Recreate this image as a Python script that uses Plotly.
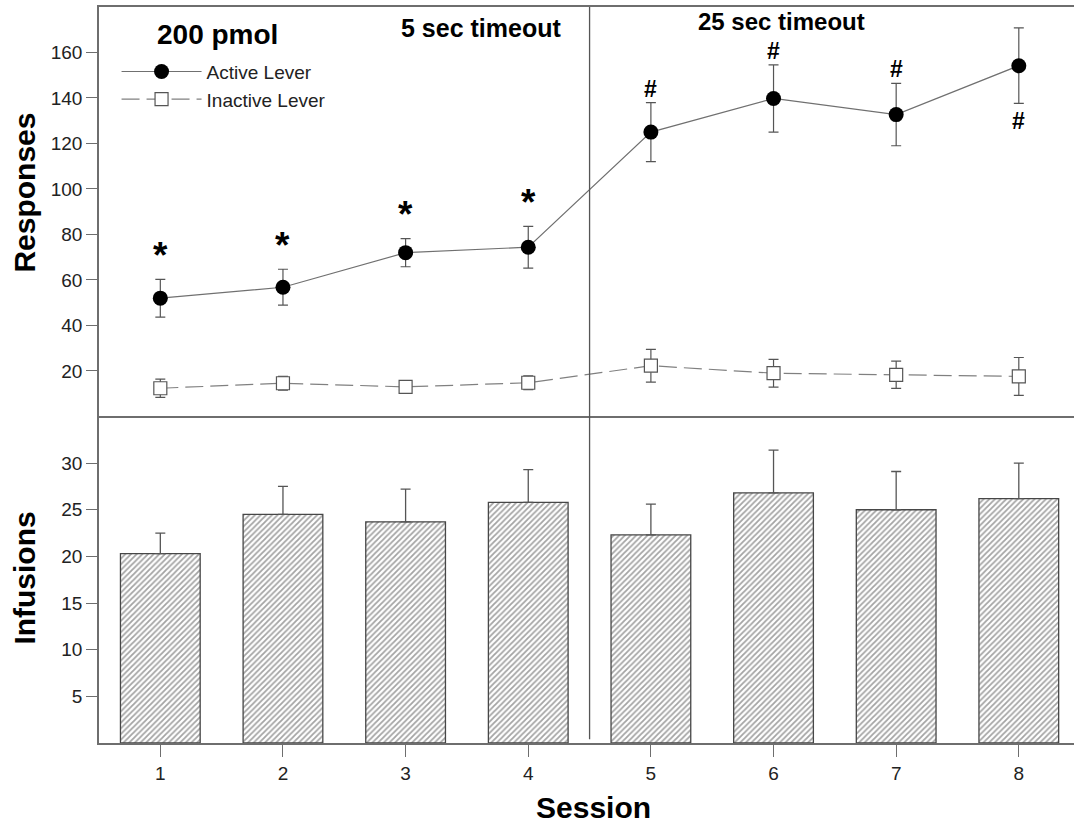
import plotly.graph_objects as go

# ---------------- data ----------------
sessions = [1, 2, 3, 4, 5, 6, 7, 8]
session_labels = ["1", "2", "3", "4", "5", "6", "7", "8"]

active_mean = [52.0, 56.8, 72.0, 74.4, 125.0, 139.8, 132.7, 154.2]
active_se = [8.3, 7.9, 6.2, 9.2, 13.0, 14.8, 13.7, 16.6]

inactive_mean = [12.4, 14.6, 13.0, 14.8, 22.3, 19.0, 18.3, 17.6]
inactive_se = [4.0, 3.0, 1.0, 3.0, 7.2, 6.1, 6.0, 8.3]

infusions_mean = [20.3, 24.5, 23.7, 25.8, 22.3, 26.8, 25.0, 26.2]
infusions_se = [2.2, 3.0, 3.5, 3.5, 3.3, 4.6, 4.1, 3.8]

star_sessions = [1, 2, 3, 4]          # '*' above active mean
hash_above_sessions = [5, 6, 7]       # '#' above active mean
hash_below_sessions = [8]             # '#' below active mean

resp_ticks = [20, 40, 60, 80, 100, 120, 140, 160]
inf_ticks = [5, 10, 15, 20, 25, 30]

# ---------------- style ----------------
FONT = "Arial, Liberation Sans, Helvetica, sans-serif"
AX = "#6e6e6e"
TXT = "#222222"

fig = go.Figure()

fig.add_trace(go.Scatter(
    x=sessions, y=active_mean, name="Active Lever", mode="lines+markers",
    line=dict(color="#707070", width=1.2),
    marker=dict(symbol="circle", size=15, color="black", line=dict(color="black", width=0)),
    error_y=dict(type="data", array=active_se, color="#555555", thickness=1.2, width=5),
    xaxis="x", yaxis="y",
))
fig.add_trace(go.Scatter(
    x=sessions, y=inactive_mean, name="Inactive Lever", mode="lines+markers",
    line=dict(color="#808080", width=1.2, dash="18px,7px"),
    marker=dict(symbol="square", size=13, color="white", line=dict(color="#555555", width=1.2)),
    error_y=dict(type="data", array=inactive_se, color="#555555", thickness=1.2, width=5),
    xaxis="x", yaxis="y",
))
fig.add_trace(go.Bar(
    x=sessions, y=infusions_mean, width=0.65, showlegend=False,
    marker=dict(color="white", line=dict(color="#474747", width=1.3),
                pattern=dict(shape="/", size=4, solidity=0.45, fgcolor="#4a4a4a", bgcolor="white")),
    error_y=dict(type="data", symmetric=False, array=infusions_se, arrayminus=[0] * len(infusions_se),
                 color="#555555", thickness=1.3, width=5),
    xaxis="x2", yaxis="y2",
))

anns = []
for s in star_sessions:
    i = sessions.index(s)
    anns.append(dict(x=s, y=active_mean[i] + active_se[i], xref="x", yref="y", text="<b>*</b>",
                     showarrow=False, yanchor="middle", yshift=24,
                     font=dict(family=FONT, size=37, color="black")))
for s in hash_above_sessions:
    i = sessions.index(s)
    anns.append(dict(x=s, y=active_mean[i] + active_se[i], xref="x", yref="y", text="<b>#</b>",
                     showarrow=False, yanchor="middle", yshift=14,
                     font=dict(family=FONT, size=23, color="black")))
for s in hash_below_sessions:
    i = sessions.index(s)
    anns.append(dict(x=s, y=active_mean[i] - active_se[i], xref="x", yref="y", text="<b>#</b>",
                     showarrow=False, yanchor="middle", yshift=-18,
                     font=dict(family=FONT, size=23, color="black")))

anns += [
    dict(x=0.1219, y=0.963, xref="paper", yref="paper", text="<b>200 pmol</b>", showarrow=False,
         xanchor="center", yanchor="middle", font=dict(family=FONT, size=28, color="black")),
    dict(x=0.3914, y=0.971, xref="paper", yref="paper", text="<b>5 sec timeout</b>", showarrow=False,
         xanchor="center", yanchor="middle", font=dict(family=FONT, size=25, color="black")),
    dict(x=0.6998, y=0.980, xref="paper", yref="paper", text="<b>25 sec timeout</b>", showarrow=False,
         xanchor="center", yanchor="middle", font=dict(family=FONT, size=24, color="black")),
    dict(x=-0.0768, y=0.748, xref="paper", yref="paper", text="<b>Responses</b>", showarrow=False,
         textangle=-90, xanchor="center", yanchor="middle", font=dict(family=FONT, size=30, color="black")),
    dict(x=-0.0768, y=0.2235, xref="paper", yref="paper", text="<b>Infusions</b>", showarrow=False,
         textangle=-90, xanchor="center", yanchor="middle", font=dict(family=FONT, size=30, color="black")),
    dict(x=0.5067, y=-0.087, xref="paper", yref="paper", text="<b>Session</b>", showarrow=False,
         xanchor="center", yanchor="middle", font=dict(family=FONT, size=30, color="black")),
]

split = 0.4437
xrange_ = [0.5, 8.45]

fig.update_layout(
    width=1075, height=827,
    margin=dict(l=99, r=1, t=7, b=84),
    paper_bgcolor="white", plot_bgcolor="white",
    font=dict(family=FONT, size=19, color=TXT),
    showlegend=True,
    legend=dict(x=0.018, y=0.938, xanchor="left", yanchor="top", bgcolor="rgba(0,0,0,0)",
                font=dict(family=FONT, size=19, color=TXT), itemwidth=80, tracegroupgap=0),
    annotations=anns,
    bargap=0.35,
    xaxis=dict(domain=[0, 1], anchor="y", range=xrange_, showticklabels=False, ticks="",
               showline=True, linecolor=AX, linewidth=1.5, mirror=True, showgrid=False, zeroline=False,
               matches="x2"),
    yaxis=dict(domain=[split, 1], anchor="x", range=[0, 180], tickvals=resp_ticks,
               ticks="outside", ticklen=11, tickcolor=AX, tickwidth=1.3,
               showline=True, linecolor=AX, linewidth=1.5, showgrid=False, zeroline=False,
               tickfont=dict(size=19, color=TXT)),
    xaxis2=dict(domain=[0, 1], anchor="y2", range=xrange_, tickvals=sessions, ticktext=session_labels,
                ticks="outside", ticklen=12, tickcolor=AX, tickwidth=1.3,
                showline=True, linecolor=AX, linewidth=1.5, showgrid=False, zeroline=False,
                tickfont=dict(size=19, color=TXT)),
    yaxis2=dict(domain=[0, split], anchor="x2", range=[0, 35], tickvals=inf_ticks,
                ticks="outside", ticklen=11, tickcolor=AX, tickwidth=1.3,
                showline=True, linecolor=AX, linewidth=1.5, showgrid=False, zeroline=False,
                tickfont=dict(size=19, color=TXT)),
    shapes=[dict(type="line", xref="x", yref="paper", x0=4.5, x1=4.5, y0=0.005, y1=1,
                 line=dict(color="#555555", width=1.3))],
)

fig.write_html("out.html", config={"displayModeBar": False},
               post_script="document.body.style.margin='0px';document.body.style.overflow='hidden';")
